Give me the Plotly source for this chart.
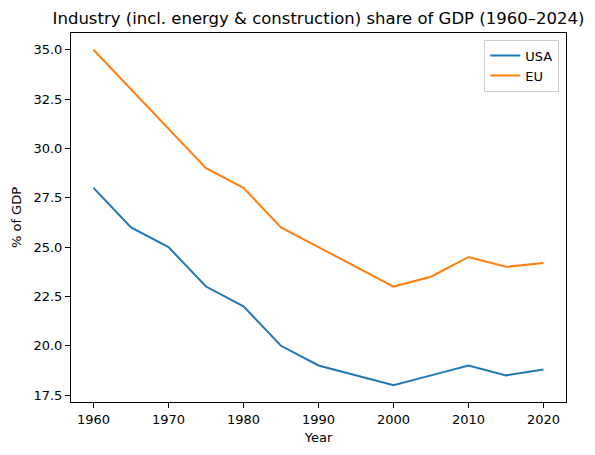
import plotly.graph_objects as go

years = [1960, 1965, 1970, 1975, 1980, 1985, 1990, 1995, 2000, 2005, 2010, 2015, 2020]
usa_share = [28, 26, 25, 23, 22, 20, 19, 18.5, 18, 18.5, 19, 18.5, 18.8]
eu_share = [35, 33, 31, 29, 28, 26, 25, 24, 23, 23.5, 24.5, 24, 24.2]

x_ticks = [1960, 1970, 1980, 1990, 2000, 2010, 2020]
y_ticks = [17.5, 20.0, 22.5, 25.0, 27.5, 30.0, 32.5, 35.0]

FONT = "DejaVu Sans"

fig = go.Figure()
fig.add_trace(go.Scatter(x=years, y=usa_share, mode="lines", name="USA",
                         line=dict(color="#1f77b4", width=2)))
fig.add_trace(go.Scatter(x=years, y=eu_share, mode="lines", name="EU",
                         line=dict(color="#ff7f0e", width=2)))

axis_style = dict(
    showline=True, linecolor="black", linewidth=1, mirror=True,
    showgrid=False, zeroline=False, automargin=False,
    ticks="outside", ticklen=5, tickwidth=1, tickcolor="black",
    tickfont=dict(family=FONT, size=13, color="black"),
)

fig.update_xaxes(
    range=[1957, 2023], tickvals=x_ticks,
    title=dict(text="Year", font=dict(family=FONT, size=13, color="black"), standoff=7),
    **axis_style,
)
fig.update_yaxes(
    range=[17.15, 35.85], tickvals=y_ticks, tickformat=".1f",
    title=dict(text="% of GDP", font=dict(family=FONT, size=13, color="black"), standoff=8),
    **axis_style,
)

fig.update_layout(
    width=595, height=455,
    margin=dict(l=70.5, r=29, t=32.5, b=52.5),
    paper_bgcolor="white", plot_bgcolor="white",
    font=dict(family=FONT, size=13, color="black"),
    title=dict(text="Industry (incl. energy & construction) share of GDP (1960–2024)",
               font=dict(family=FONT, size=16.5, color="black"),
               x=0.5, xref="paper", xanchor="center",
               y=1 - 18 / 455, yref="container", yanchor="middle"),
    legend=dict(x=0.9865, y=0.982, xanchor="right", yanchor="top",
                itemwidth=30,
                bgcolor="rgba(255,255,255,0.8)", bordercolor="#cccccc", borderwidth=1,
                font=dict(family=FONT, size=13, color="black")),
)

# the page body has a default margin; drop it so the figure sits at the corner
fig.write_html("out.html", config={"displayModeBar": False},
               post_script="document.body.style.margin='0';")
